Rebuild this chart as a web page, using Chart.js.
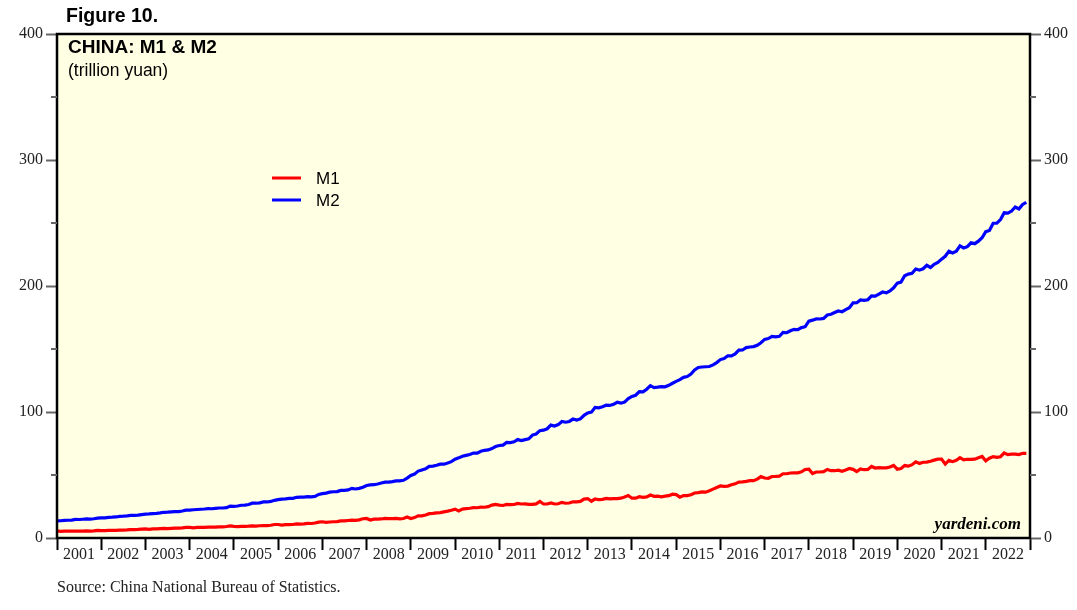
<!DOCTYPE html>
<html lang="en">
<head>
<meta charset="UTF-8">
<title>China M1 & M2</title>
<style>
  body { margin: 0; background: #fff; }
  .wrap { position: relative; width: 1077px; height: 610px; }
  canvas { position: absolute; left: 0; top: 0; }
  .txt { position: absolute; white-space: nowrap; color: #000; }
  .fig { left: 66px; top: 4px; font: bold 19.5px "Liberation Sans", Arial, sans-serif; }
  .ttl { left: 68px; top: 36px; font: bold 19px "Liberation Sans", Arial, sans-serif; }
  .sub { left: 68px; top: 60px; font: 17.5px "Liberation Sans", Arial, sans-serif; }
  .src { left: 57px; top: 578px; font: 16px "Liberation Serif", "Times New Roman", serif; color: #222; }
  .brand { right: 56px; top: 514px; font: italic bold 17px "Liberation Serif", "Times New Roman", serif; }
</style>
</head>
<body>
<div class="wrap">
  <canvas id="grafico" width="1077" height="610"></canvas>
  <div class="txt fig">Figure 10.</div>
  <div class="txt ttl">CHINA: M1 &amp; M2</div>
  <div class="txt sub">(trillion yuan)</div>
  <div class="txt brand">yardeni.com</div>
  <div class="txt src">Source: China National Bureau of Statistics.</div>
</div>

<script src="https://cdn.jsdelivr.net/npm/chart.js"></script>
<script>
// monthly data, Jan 2001 - Dec 2022 (trillion yuan)
const anos = [2001, 2002, 2003, 2004, 2005, 2006, 2007, 2008, 2009, 2010, 2011,
              2012, 2013, 2014, 2015, 2016, 2017, 2018, 2019, 2020, 2021, 2022];

const m1 = [
  5.6, 5.2, 5.4, 5.4, 5.4, 5.4, 5.4, 5.5, 5.6, 5.5, 5.7, 6.0,
  5.9, 5.9, 6.0, 6.0, 6.1, 6.3, 6.3, 6.4, 6.6, 6.6, 6.8, 7.1,
  7.3, 6.9, 7.2, 7.2, 7.4, 7.6, 7.5, 7.7, 7.9, 7.9, 8.1, 8.4,
  8.5, 8.1, 8.4, 8.4, 8.5, 8.7, 8.6, 8.7, 8.9, 8.9, 9.1, 9.6,
  9.2, 9.1, 9.3, 9.3, 9.4, 9.6, 9.5, 9.7, 9.9, 9.8, 10.1, 10.7,
  10.7, 10.2, 10.6, 10.6, 10.7, 11.2, 11.0, 11.2, 11.6, 11.5, 11.9, 12.6,
  12.9, 12.4, 12.7, 12.9, 13.0, 13.6, 13.6, 13.9, 14.2, 14.0, 14.4, 15.3,
  15.5, 14.3, 15.0, 15.0, 15.1, 15.5, 15.4, 15.4, 15.5, 15.2, 15.5, 16.6,
  15.5, 16.2, 17.6, 17.6, 18.3, 19.3, 19.5, 19.9, 20.1, 20.7, 21.3, 22.0,
  22.9, 21.5, 22.9, 23.3, 23.6, 24.1, 24.0, 24.5, 24.4, 24.9, 26.1, 26.7,
  26.1, 25.8, 26.7, 26.5, 26.6, 27.4, 27.0, 27.1, 26.7, 26.7, 27.1, 29.0,
  27.0, 27.0, 27.8, 27.0, 27.2, 28.3, 27.6, 27.8, 28.7, 28.7, 29.0, 30.9,
  31.3, 29.2, 31.0, 30.4, 30.7, 31.4, 31.0, 31.3, 31.2, 31.6, 32.5, 33.7,
  31.6, 31.6, 32.8, 32.2, 32.6, 34.1, 33.1, 33.2, 32.7, 33.2, 33.6, 34.8,
  34.4, 32.4, 33.7, 33.7, 34.3, 35.7, 36.0, 36.6, 36.4, 37.5, 38.8, 40.1,
  41.3, 41.0, 41.2, 42.2, 43.0, 44.4, 44.5, 44.9, 45.5, 45.5, 46.7, 48.7,
  47.6, 47.4, 48.8, 48.9, 49.1, 51.0, 51.0, 51.6, 51.8, 51.7, 52.5, 54.4,
  54.6, 51.2, 52.4, 52.4, 52.7, 54.4, 53.4, 53.4, 53.8, 53.0, 54.0, 55.2,
  54.5, 52.7, 54.8, 54.2, 54.4, 56.8, 55.5, 55.8, 55.7, 55.7, 56.3, 57.6,
  54.6, 55.2, 57.5, 57.0, 58.2, 60.4, 59.1, 60.1, 60.2, 60.9, 61.8, 62.6,
  62.6, 58.7, 61.6, 60.6, 61.7, 63.8, 62.0, 62.5, 62.4, 62.6, 63.7, 64.7,
  61.3, 63.3, 64.6, 64.0, 64.5, 67.5, 66.2, 66.5, 66.5, 66.2, 67.2, 67.2
];

const m2 = [
  13.6, 13.7, 14.0, 14.1, 14.2, 14.8, 14.7, 14.9, 15.1, 15.0, 15.3, 15.8,
  16.0, 16.0, 16.4, 16.5, 16.7, 17.2, 17.3, 17.5, 17.9, 17.9, 18.1, 18.5,
  18.9, 19.1, 19.4, 19.6, 19.9, 20.4, 20.5, 20.8, 21.0, 21.0, 21.4, 22.1,
  22.1, 22.4, 22.6, 22.8, 23.0, 23.3, 23.2, 23.5, 23.8, 23.8, 24.1, 25.3,
  25.1, 25.4, 26.0, 26.1, 26.6, 27.6, 27.6, 27.9, 28.7, 28.6, 29.0, 29.9,
  30.4, 30.9, 31.0, 31.4, 31.5, 32.3, 32.4, 32.5, 32.8, 32.7, 33.0, 34.6,
  35.2, 35.6, 36.4, 36.7, 36.8, 37.8, 37.8, 38.2, 39.4, 38.9, 39.4, 40.3,
  41.7, 42.1, 42.3, 42.9, 43.6, 44.3, 44.4, 44.8, 45.3, 45.3, 45.8, 47.5,
  49.6, 50.7, 53.1, 54.0, 54.9, 56.9, 57.1, 57.7, 58.6, 58.6, 59.5, 60.6,
  62.5, 63.6, 64.9, 65.6, 66.3, 67.4, 67.4, 68.8, 69.6, 69.9, 71.0, 72.6,
  73.4, 73.7, 75.8, 75.7, 76.3, 78.1, 77.3, 78.1, 78.7, 81.7, 82.5, 85.2,
  85.6, 86.7, 89.6, 88.9, 90.0, 92.5, 91.9, 92.5, 94.4, 93.6, 94.5, 97.4,
  99.2, 99.9, 103.6, 103.3, 104.2, 105.4, 105.2, 106.1, 107.7, 107.0, 107.9, 110.7,
  112.4, 113.3, 116.1, 116.0, 118.1, 120.9, 119.4, 119.7, 120.2, 120.0, 121.2, 122.8,
  124.3, 125.7, 127.5, 128.1, 130.1, 133.3, 135.3, 135.7, 135.9, 136.1, 137.4, 139.2,
  141.6, 142.5, 144.6, 144.5, 146.1, 149.1, 149.2, 151.1, 151.6, 151.9, 153.0, 155.0,
  157.6, 158.3, 160.0, 159.6, 160.1, 163.1, 162.9, 164.5, 165.6, 165.3, 167.0, 167.7,
  172.1, 172.9, 173.9, 173.8, 174.3, 177.0, 177.6, 178.9, 180.2, 179.6, 181.3, 182.7,
  186.6, 186.7, 188.9, 188.6, 189.1, 192.1, 191.9, 193.6, 195.2, 194.6, 196.1, 198.6,
  202.3, 203.1, 208.1, 209.4, 210.0, 213.5, 212.6, 213.7, 216.4, 214.7, 217.2, 218.7,
  221.3, 223.6, 227.6, 226.2, 227.6, 231.8, 230.2, 231.2, 234.3, 233.6, 235.6, 238.3,
  243.1, 244.1, 249.8, 249.9, 252.7, 258.1, 257.8, 259.5, 262.7, 261.2, 264.7, 266.4
];

const yTicks = [0, 100, 200, 300, 400];
const yMinor = [50, 150, 250, 350];

function pontos(serie) {
  return serie.map((v, i) => ({ x: anos[0] + i / 12, y: v }));
}

const serif = '"Liberation Serif", "Times New Roman", serif';

// fundo amarelo, moldura, ticks menores e legenda
const moldura = {
  id: 'moldura',
  beforeDraw(chart) {
    const { ctx, chartArea: a } = chart;
    ctx.save();
    ctx.fillStyle = 'rgb(255,255,228)';
    ctx.fillRect(a.left, a.top, a.right - a.left, a.bottom - a.top);
    ctx.restore();
  },
  afterDraw(chart) {
    const { ctx, chartArea: a } = chart;
    ctx.save();
    ctx.strokeStyle = '#000';
    ctx.lineWidth = 2.5;
    ctx.strokeRect(a.left, a.top, a.right - a.left, a.bottom - a.top);

    // ticks menores (50, 150 ...)
    ctx.strokeStyle = '#666';
    ctx.lineWidth = 2;
    yMinor.forEach(v => {
      const y = chart.scales.y.getPixelForValue(v);
      ctx.beginPath(); ctx.moveTo(a.left - 6, y); ctx.lineTo(a.left, y); ctx.stroke();
      ctx.beginPath(); ctx.moveTo(a.right, y); ctx.lineTo(a.right + 6, y); ctx.stroke();
    });

    // legenda
    ctx.font = '17px "Liberation Sans", Arial, sans-serif';
    ctx.textBaseline = 'middle';
    chart.data.datasets.forEach((ds, i) => {
      const y = 178 + i * 22;
      ctx.strokeStyle = ds.borderColor;
      ctx.lineWidth = 3;
      ctx.beginPath(); ctx.moveTo(272, y); ctx.lineTo(301, y); ctx.stroke();
      ctx.fillStyle = '#000';
      ctx.fillText(ds.label, 316, y + 1);
    });
    ctx.restore();
  }
};

const ctx = document.getElementById('grafico').getContext('2d');
new Chart(ctx, {
  type: 'line',
  data: {
    datasets: [
      { label: 'M1', data: pontos(m1), borderColor: '#ff0000', borderWidth: 3.2, pointRadius: 0, tension: 0 },
      { label: 'M2', data: pontos(m2), borderColor: '#0000ff', borderWidth: 3.2, pointRadius: 0, tension: 0 }
    ]
  },
  options: {
    responsive: false,
    animation: false,
    layout: { padding: { top: 34, left: 0, right: 0, bottom: 0 } },
    plugins: { legend: { display: false }, tooltip: { enabled: false } },
    scales: {
      x: {
        type: 'linear',
        min: 2001,
        max: 2023,
        afterBuildTicks(scale) {
          const t = [];
          anos.forEach(a => { t.push({ value: a }); t.push({ value: a + 0.5 }); });
          t.push({ value: 2023 });
          scale.ticks = t;
        },
        afterFit(scale) { scale.height = 72; },
        border: { display: false },
        grid: {
          drawOnChartArea: false,
          tickLength: 12,
          tickWidth: 2,
          tickColor: c => Number.isInteger(c.tick.value) ? '#000' : 'rgba(0,0,0,0)'
        },
        ticks: {
          autoSkip: false,
          maxRotation: 0,
          padding: -5,
          color: '#222',
          font: { family: serif, size: 16 },
          callback: v => Number.isInteger(v) ? '' : String(Math.floor(v))
        }
      },
      y: {
        position: 'left',
        min: 0,
        max: 400,
        afterBuildTicks(scale) { scale.ticks = yTicks.map(v => ({ value: v })); },
        afterFit(scale) { scale.width = 57; },
        border: { display: false },
        grid: { drawOnChartArea: false, tickLength: 11, tickWidth: 2, tickColor: '#666' },
        ticks: { padding: 3, color: '#222', font: { family: serif, size: 16 } }
      },
      y2: {
        position: 'right',
        min: 0,
        max: 400,
        afterBuildTicks(scale) { scale.ticks = yTicks.map(v => ({ value: v })); },
        afterFit(scale) { scale.width = 47; },
        border: { display: false },
        grid: { drawOnChartArea: false, tickLength: 11, tickWidth: 2, tickColor: '#666' },
        ticks: { padding: 3, color: '#222', font: { family: serif, size: 16 } }
      }
    }
  },
  plugins: [moldura]
});
</script>
</body>
</html>
